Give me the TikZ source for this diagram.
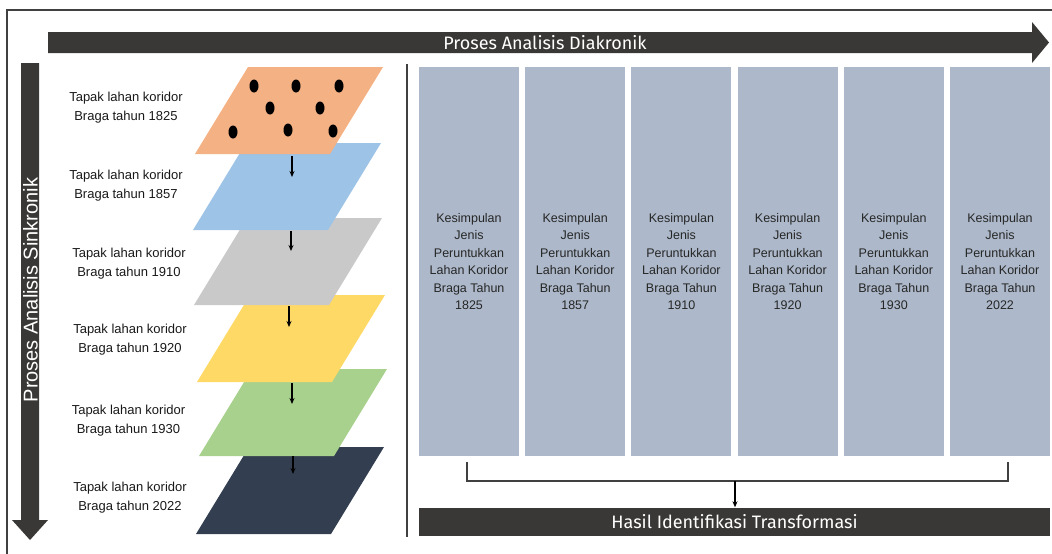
\documentclass[tikz,border=0pt]{standalone}
\usepackage{fontspec}
\setmainfont{Liberation Sans}
\newfontfamily\headfont{Fira Sans}
\usetikzlibrary{arrows.meta}
\definecolor{darkbar}{RGB}{58,56,54}
\definecolor{boxfill}{RGB}{173,185,202}
\definecolor{lorange}{RGB}{244,177,131}
\definecolor{lblue}{RGB}{157,195,230}
\definecolor{lgray}{RGB}{201,201,201}
\definecolor{lyellow}{RGB}{255,217,102}
\definecolor{lgreen}{RGB}{169,209,142}
\definecolor{lnavy}{RGB}{51,63,80}
\definecolor{linegray}{RGB}{64,64,64}
\newcommand\layerpoly[3]{\fill[#1] (#2,#3) -- ++(135,0) -- ++(53,-87) -- ++(-135,0) -- cycle;}
\begin{document}
\begin{tikzpicture}[x=1pt,y=-1pt,
  labeltext/.style={align=center,font=\fontsize{13}{19}\selectfont,text=black!90},
  boxtext/.style={align=center,font=\fontsize{12.5}{17.5}\selectfont,text=black!85},
  periodbox/.style={fill=boxfill,draw=none,minimum width=100pt,minimum height=389pt,inner sep=0pt},
  headtext/.style={text=white,font=\headfont\fontsize{18}{20}\selectfont},
  smallarrow/.style={-{Stealth[length=6pt,width=5pt]},line width=1.1pt,black},
  dot/.style={fill=black},
  bracketline/.style={line width=1.2pt,linegray}
  ]
\useasboundingbox (0,0) rectangle (1052,554);
% frame
\draw[line width=1.5pt,linegray] (7,554) -- (7,10) -- (1052,10);
% horizontal arrow
\fill[darkbar] (48,32) -- (1032,32) -- (1032,22) -- (1049,42.5) -- (1032,63) -- (1032,53) -- (48,53) -- cycle;
\node[headtext] (diak) at (545,42.5) {Proses Analisis Diakronik};
% vertical arrow
\fill[darkbar] (21,63) -- (39,63) -- (39,520) -- (48,520) -- (30,540) -- (12,520) -- (21,520) -- cycle;
\node[rotate=90,text=white,font=\fontsize{20}{22}\selectfont] (sink) at (30.5,290) {Proses Analisis Sinkronik};
% divider
\draw[line width=1.5pt,linegray] (407,64) -- (407,537);
% layers (bottom first)
\layerpoly{lnavy}{196}{534}
\layerpoly{lgreen}{199}{456}
\layerpoly{lyellow}{197}{382}
\layerpoly{lgray}{194}{305}
\layerpoly{lblue}{193}{230}
\layerpoly{lorange}{195}{154}
% dots
\foreach \px/\py in {254/86,296/86,339/86,270/108,320/108,233/132,288/130,333/131}
  \fill[dot] (\px,\py) ellipse [x radius=4.5pt, y radius=6.5pt];
% small arrows between layers
\coordinate (a1s) at (292,156); \coordinate (a1e) at (292,177);
\coordinate (a2s) at (291,231); \coordinate (a2e) at (291,251);
\coordinate (a3s) at (289,306); \coordinate (a3e) at (289,327);
\coordinate (a4s) at (292,383); \coordinate (a4e) at (292,404);
\coordinate (a5s) at (293,456); \coordinate (a5e) at (293,474);
\foreach \i in {1,...,5} \draw[smallarrow] (a\i s) -- (a\i e);
% labels
\node[labeltext] (l1) at (126,108) {Tapak lahan koridor\\Braga tahun 1825};
\node[labeltext] (l2) at (126,186) {Tapak lahan koridor\\Braga tahun 1857};
\node[labeltext] (l3) at (129,264) {Tapak lahan koridor\\Braga tahun 1910};
\node[labeltext] (l4) at (130,340) {Tapak lahan koridor\\Braga tahun 1920};
\node[labeltext] (l5) at (128.5,421) {Tapak lahan koridor\\Braga tahun 1930};
\node[labeltext] (l6) at (130,498) {Tapak lahan koridor\\Braga tahun 2022};
% period boxes
\foreach \yr [count=\i from 0] in {1825,1857,1910,1920,1930,2022}
  \node[periodbox,boxtext] (k\i) at ({469+106.2*\i},261.5) {Kesimpulan\\Jenis\\Peruntukkan\\Lahan Koridor\\Braga Tahun\\\yr};
% result bar
\node[fill=darkbar,minimum width=631pt,minimum height=28pt,inner sep=0pt,headtext] (hasil) at (734.5,521.5) {Hasil Identifikasi Transformasi};
% bracket
\coordinate (bl) at (467,462); \coordinate (br) at (1008,462);
\coordinate (bm) at (735,481);
\draw[bracketline] (bl) -- (467,481) -- (1008,481) -- (br);
\draw[smallarrow] (bm) -- (bm |- hasil.north);
\end{tikzpicture}
\end{document}
